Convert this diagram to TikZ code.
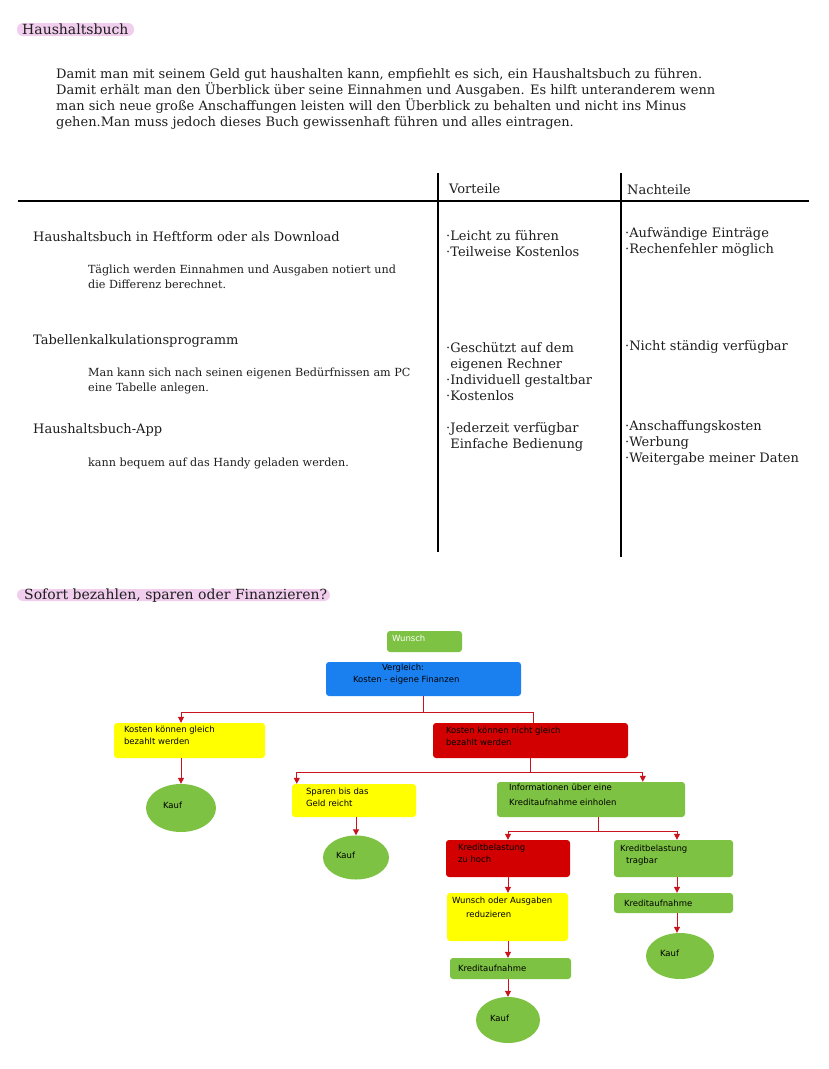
\documentclass[tikz,border=0pt]{standalone}
\usepackage{fontspec}
\setmainfont{DejaVu Serif}
\newfontfamily\hwfont{DejaVu Sans}
\usetikzlibrary{arrows.meta,calc,shapes.geometric}
\definecolor{fgreen}{RGB}{125,194,66}
\definecolor{fblue}{RGB}{26,128,240}
\definecolor{fyellow}{RGB}{255,255,0}
\definecolor{fred}{RGB}{210,0,0}
\definecolor{conred}{RGB}{200,20,30}
\definecolor{hlpink}{RGB}{242,206,238}
\definecolor{txt}{RGB}{30,30,30}
\tikzset{
  fbox/.style={draw=none,rounded corners=3pt,inner sep=0pt},
  gbox/.style={fbox,fill=fgreen},
  bbox/.style={fbox,fill=fblue},
  ybox/.style={fbox,fill=fyellow},
  rbox/.style={fbox,fill=fred},
  kauf/.style={ellipse,fill=fgreen,draw=none,inner sep=0pt},
  hw/.style={font=\hwfont\fontsize{8.5}{12}\selectfont,anchor=north west,inner sep=0pt,align=left},
  conn/.style={draw=conred,line width=1pt},
  arr/.style={conn,-{Triangle[length=6pt,width=6pt]}},
  body/.style={font=\fontsize{13}{16}\selectfont,text=txt,anchor=base west,inner sep=0pt,align=left},
  small/.style={font=\fontsize{11.2}{15}\selectfont,text=txt,anchor=base west,inner sep=0pt,align=left},
  head/.style={font=\fontsize{14}{16}\selectfont,text=txt,anchor=base west,inner sep=0pt},
  hl/.style={fill=hlpink,rounded corners=6pt,draw=none},
  rule/.style={draw=black,line width=1.2pt}
}
\begin{document}
\begin{tikzpicture}[x=1pt,y=-1pt]
\useasboundingbox (0,0) rectangle (828,1069);
\fill[white] (0,0) rectangle (828,1069);
% headings
\fill[hl] (17,23) rectangle (134,36);
\node[head] (h1) at (22,34) {Haushaltsbuch};
\node[body] (p1) at (56,126) {Damit man mit seinem Geld gut haushalten kann, empfiehlt es sich, ein Haushaltsbuch zu führen.\\Damit erhält man den Überblick über seine Einnahmen und Ausgaben. Es hilft unteranderem wenn\\man sich neue große Anschaffungen leisten will den Überblick zu behalten und nicht ins Minus\\gehen.Man muss jedoch dieses Buch gewissenhaft führen und alles eintragen.};
% table
\draw[rule] (18,201) -- (809,201);
\draw[rule] (438,173) -- (438,552);
\draw[rule] (621,173) -- (621,557);
\node[body] (hv) at (449,193) {Vorteile};
\node[body] (hn) at (627,194) {Nachteile};
\node[body] (r1) at (33,241) {Haushaltsbuch in Heftform oder als Download};
\node[small] (r1d) at (88,288) {Täglich werden Einnahmen und Ausgaben notiert und\\die Differenz berechnet.};
\node[body] (v1) at (446,256) {·Leicht zu führen\\·Teilweise Kostenlos};
\node[body] (n1) at (625,253) {·Aufwändige Einträge\\·Rechenfehler möglich};
\node[body] (r2) at (33,344) {Tabellenkalkulationsprogramm};
\node[small] (r2d) at (88,391) {Man kann sich nach seinen eigenen Bedürfnissen am PC\\eine Tabelle anlegen.};
\node[body] (v2) at (446,400) {·Geschützt auf dem\\\phantom{·}eigenen Rechner\\·Individuell gestaltbar\\·Kostenlos};
\node[body] (n2) at (625,350) {·Nicht ständig verfügbar};
\node[body] (r3) at (33,433) {Haushaltsbuch-App};
\node[small] (r3d) at (88,466) {kann bequem auf das Handy geladen werden.};
\node[body] (v3) at (446,448) {·Jederzeit verfügbar\\\phantom{·}Einfache Bedienung};
\node[body] (n3) at (625,462) {·Anschaffungskosten\\·Werbung\\·Weitergabe meiner Daten};
\fill[hl] (17,589) rectangle (330,601);
\node[head] (h2) at (24,599) {Sofort bezahlen, sparen oder Finanzieren?};
% flowchart
\node[gbox,minimum width=75pt,minimum height=21pt] (wu) at (424.5,641.5) {};
\node[hw,text=white] at ($(wu.north west)+(5,4)$) {Wunsch};
\node[bbox,minimum width=195pt,minimum height=34pt] (vg) at (423.5,679) {};
\node[hw] at ($(vg.north west)+(27,2)$) {\hspace*{29pt}Vergleich:\\Kosten - eigene Finanzen};
\node[ybox,minimum width=151pt,minimum height=35pt] (k1) at (189.5,740.5) {};
\node[hw] at ($(k1.north west)+(10,3)$) {Kosten können gleich\\bezahlt werden};
\node[rbox,minimum width=195pt,minimum height=35pt] (k2) at (530.5,740.5) {};
\node[hw] at ($(k2.north west)+(13,4)$) {Kosten können nicht gleich\\bezahlt werden};
\node[kauf,minimum width=70pt,minimum height=48pt] (kf1) at (181,808) {};
\node[hw,anchor=west] at ($(kf1.west)+(17,-3)$) {Kauf};
\node[ybox,minimum width=124pt,minimum height=33pt] (sp) at (354,800.5) {};
\node[hw] at ($(sp.north west)+(14,4)$) {Sparen bis das\\Geld reicht};
\node[kauf,minimum width=66pt,minimum height=44pt] (kf2) at (356,857.5) {};
\node[hw,anchor=west] at ($(kf2.west)+(13,-2)$) {Kauf};
\node[gbox,minimum width=188pt,minimum height=35pt] (in) at (591,799.5) {};
\node[hw] at ($(in.north west)+(12,2)$) {Informationen über eine\\[3pt]Kreditaufnahme einholen};
\node[rbox,minimum width=124pt,minimum height=37pt] (kb1) at (508,858.5) {};
\node[hw] at ($(kb1.north west)+(12,4)$) {Kreditbelastung\\zu hoch};
\node[gbox,minimum width=119pt,minimum height=37pt] (kb2) at (673.5,858.5) {};
\node[hw] at ($(kb2.north west)+(6,5)$) {Kreditbelastung\\\hspace*{6pt}tragbar};
\node[ybox,minimum width=121pt,minimum height=48pt] (wr) at (507.5,917) {};
\node[hw] at ($(wr.north west)+(5,4)$) {Wunsch oder Ausgaben\\[2pt]\hspace*{14pt}reduzieren};
\node[gbox,minimum width=121pt,minimum height=21pt] (ka1) at (510.5,968.5) {};
\node[hw,anchor=west] at ($(ka1.west)+(8,0)$) {Kreditaufnahme};
\node[kauf,minimum width=64pt,minimum height=46pt] (kf3) at (508,1020) {};
\node[hw,anchor=west] at ($(kf3.west)+(14,-2)$) {Kauf};
\node[gbox,minimum width=119pt,minimum height=20pt] (ka2) at (673.5,903) {};
\node[hw,anchor=west] at ($(ka2.west)+(10,0)$) {Kreditaufnahme};
\node[kauf,minimum width=68pt,minimum height=46pt] (kf4) at (680,956) {};
\node[hw,anchor=west] at ($(kf4.west)+(14,-3)$) {Kauf};
% connectors
\draw[conn] (vg.south) -- ++(0,16) coordinate (j1);
\draw[arr] (j1) -| (k1.north -| kf1.north);
\draw[conn] (j1) -| ($(k2.north)+(2.5,0)$);
\draw[arr] (k1.south -| kf1.north) -- (kf1.north);
\draw[conn] (k2.south) -- ++(0,14) coordinate (j2);
\draw[arr] (j2) -| ($(sp.north west)+(5,0)$);
\draw[arr] (j2) -| ($(in.north west)+(146,0)$);
\draw[arr] (sp.south -| kf2.north) -- (kf2.north);
\draw[conn] ($(in.south)+(7,0)$) -- ++(0,14) coordinate (j3);
\draw[arr] (j3) -| (kb1.north);
\draw[arr] (j3) -| ($(kb2.north)+(3.5,0)$);
\draw[arr] (kb1.south) -- (wr.north -| kb1.south);
\draw[arr] (wr.south -| kb1.south) -- (ka1.north -| kb1.south);
\draw[arr] (ka1.south -| kf3.north) -- (kf3.north);
\draw[arr] ($(kb2.south)+(3.5,0)$) -- ($(ka2.north)+(3.5,0)$);
\coordinate (a4) at ($(ka2.south)+(3.5,0)$);
\draw[arr] (a4) -- (a4 |- kf4.north);
\end{tikzpicture}
\end{document}
